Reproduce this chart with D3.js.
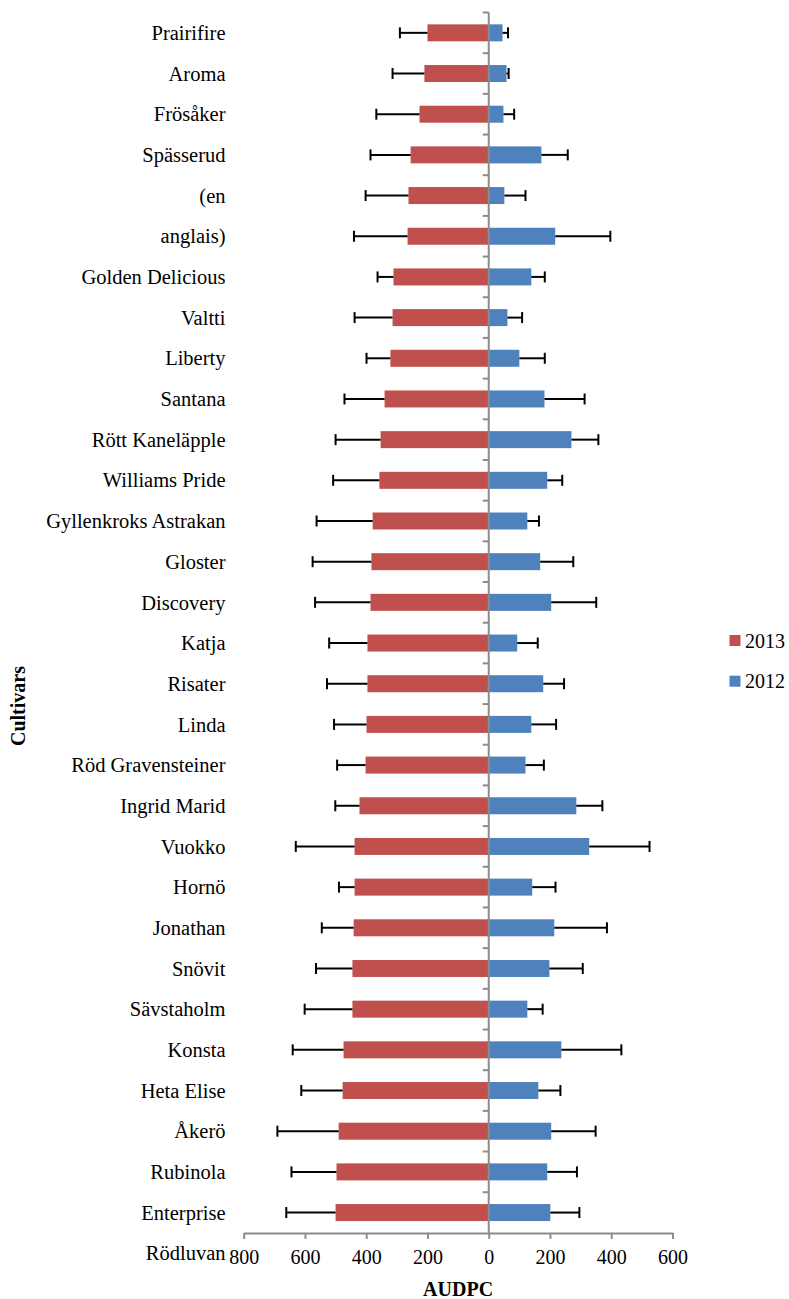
<!DOCTYPE html>
<html>
<head>
<meta charset="utf-8">
<script src="https://cdn.jsdelivr.net/npm/d3@7"></script>
<style>
  html, body { margin: 0; padding: 0; background: #ffffff; }
  svg text { font-family: "Liberation Serif", "Times New Roman", serif; fill: #000; }
</style>
</head>
<body>
<svg id="chart" width="789" height="1299"></svg>
<script>
// Cultivars, top to bottom
const cultivars = [
  "Prairifire", "Aroma", "Frösåker", "Spässerud", "(en", "anglais)",
  "Golden Delicious", "Valtti", "Liberty", "Santana", "Rött Kaneläpple",
  "Williams Pride", "Gyllenkroks Astrakan", "Gloster", "Discovery", "Katja",
  "Risater", "Linda", "Röd Gravensteiner", "Ingrid Marid", "Vuokko", "Hornö",
  "Jonathan", "Snövit", "Sävstaholm", "Konsta", "Heta Elise", "Åkerö",
  "Rubinola", "Enterprise", "Rödluvan"
];

// AUDPC 2013 (drawn to the left) and its error
const audpc2013 = [200, 210, 226, 255, 262, 265, 311, 314, 321, 340, 353, 357,
  379, 383, 386, 396, 396, 399, 402, 422, 438, 438, 441, 445, 445, 474, 477,
  490, 497, 500];
const err2013 = [90, 104, 141, 131, 140, 175, 52, 124, 78, 131, 147, 151,
  183, 192, 181, 125, 132, 106, 93, 79, 192, 51, 104, 119, 156, 166, 135,
  200, 147, 161];

// AUDPC 2012 (drawn to the right) and its error
const audpc2012 = [45, 58, 48, 172, 51, 217, 139, 61, 100, 182, 270, 191,
  126, 168, 204, 93, 178, 139, 120, 286, 328, 142, 214, 198, 126, 237, 162,
  204, 191, 201];
const err2012 = [18, 7, 35, 86, 69, 180, 44, 48, 83, 131, 88, 49,
  38, 108, 147, 67, 68, 81, 60, 85, 197, 76, 172, 109, 50, 196, 72,
  145, 97, 95];

const xTicks = [-800, -600, -400, -200, 0, 200, 400, 600];

const series = [
  { name: "2013", color: "#C0504D", values: audpc2013, errors: err2013, sign: -1 },
  { name: "2012", color: "#4F81BD", values: audpc2012, errors: err2012, sign: 1 }
];

const font = '"Liberation Serif", "Times New Roman", serif';
const svg = d3.select("#chart").style("font-family", font);

const step = 40.68;
const plotTop = 12.5;
const y = d3.scaleBand()
  .domain(cultivars)
  .range([plotTop, plotTop + step * cultivars.length])
  .padding(0);
const plotBottom = y(cultivars[cultivars.length - 1]);

const x = d3.scaleLinear().domain([-800, 600]).range([243.7, 672.5]);
const barH = 17;
const axisColor = "#8C8C8C";

// bars
series.forEach(s => {
  svg.append("g").selectAll("rect")
    .data(s.values)
    .join("rect")
    .attr("x", (d) => Math.min(x(0), x(s.sign * d)))
    .attr("width", (d) => Math.abs(x(s.sign * d) - x(0)))
    .attr("y", (d, i) => y(cultivars[i]) + step / 2 - barH / 2)
    .attr("height", barH)
    .attr("fill", s.color);
});

// error bars (outward only)
series.forEach(s => {
  const g = svg.append("g").attr("stroke", "#000").attr("stroke-width", 2);
  s.values.forEach((v, i) => {
    const cy = y(cultivars[i]) + step / 2;
    const x0 = x(s.sign * v);
    const x1 = x(s.sign * (v + s.errors[i]));
    g.append("line").attr("x1", x0).attr("x2", x1).attr("y1", cy).attr("y2", cy);
    g.append("line").attr("x1", x1).attr("x2", x1).attr("y1", cy - 5.5).attr("y2", cy + 5.5);
  });
});

// vertical category axis at zero
const vAxis = svg.append("g").attr("stroke", axisColor).attr("stroke-width", 2);
vAxis.append("line")
  .attr("x1", x(0)).attr("x2", x(0))
  .attr("y1", plotTop).attr("y2", plotBottom);
cultivars.slice(0, -1).forEach(c => {
  vAxis.append("line")
    .attr("x1", x(0) - 6).attr("x2", x(0))
    .attr("y1", y(c)).attr("y2", y(c));
});

// category labels
svg.append("g").selectAll("text")
  .data(cultivars)
  .join("text")
  .attr("x", 225.5)
  .attr("y", d => y(d) + step / 2)
  .attr("dy", "0.35em")
  .attr("text-anchor", "end")
  .style("font-family", font)
  .style("font-size", "20.5px")
  .text(d => d);

// value axis
const xAxis = svg.append("g")
  .attr("transform", `translate(0,${plotBottom})`)
  .call(d3.axisBottom(x)
    .tickValues(xTicks)
    .tickFormat(d => Math.abs(d))
    .tickSize(6)
    .tickSizeOuter(0)
    .tickPadding(10.5));
xAxis.attr("font-family", null).attr("font-size", null);
xAxis.select(".domain").attr("stroke", axisColor).attr("stroke-width", 2);
xAxis.selectAll(".tick line").attr("stroke", axisColor).attr("stroke-width", 2);
xAxis.selectAll(".tick text")
  .style("font-family", font)
  .style("font-size", "20px")
  .attr("fill", "#000");

// axis titles
svg.append("text")
  .attr("x", (x(-800) + x(600)) / 2)
  .attr("y", 1296)
  .attr("text-anchor", "middle")
  .style("font-family", font)
  .style("font-size", "20px")
  .style("font-weight", "bold")
  .text("AUDPC");

svg.append("text")
  .attr("transform", "translate(24.5,706) rotate(-90)")
  .attr("text-anchor", "middle")
  .style("font-family", font)
  .style("font-size", "20px")
  .style("font-weight", "bold")
  .text("Cultivars");

// legend
const legend = svg.append("g");
series.forEach((s, i) => {
  const ly = 640.5 + i * 40.7;
  legend.append("rect")
    .attr("x", 729.5).attr("y", ly - 5.5)
    .attr("width", 11).attr("height", 11)
    .attr("fill", s.color);
  legend.append("text")
    .attr("x", 745).attr("y", ly)
    .attr("dy", "0.35em")
    .style("font-family", font)
    .style("font-size", "20px")
    .text(s.name);
});
</script>
</body>
</html>
